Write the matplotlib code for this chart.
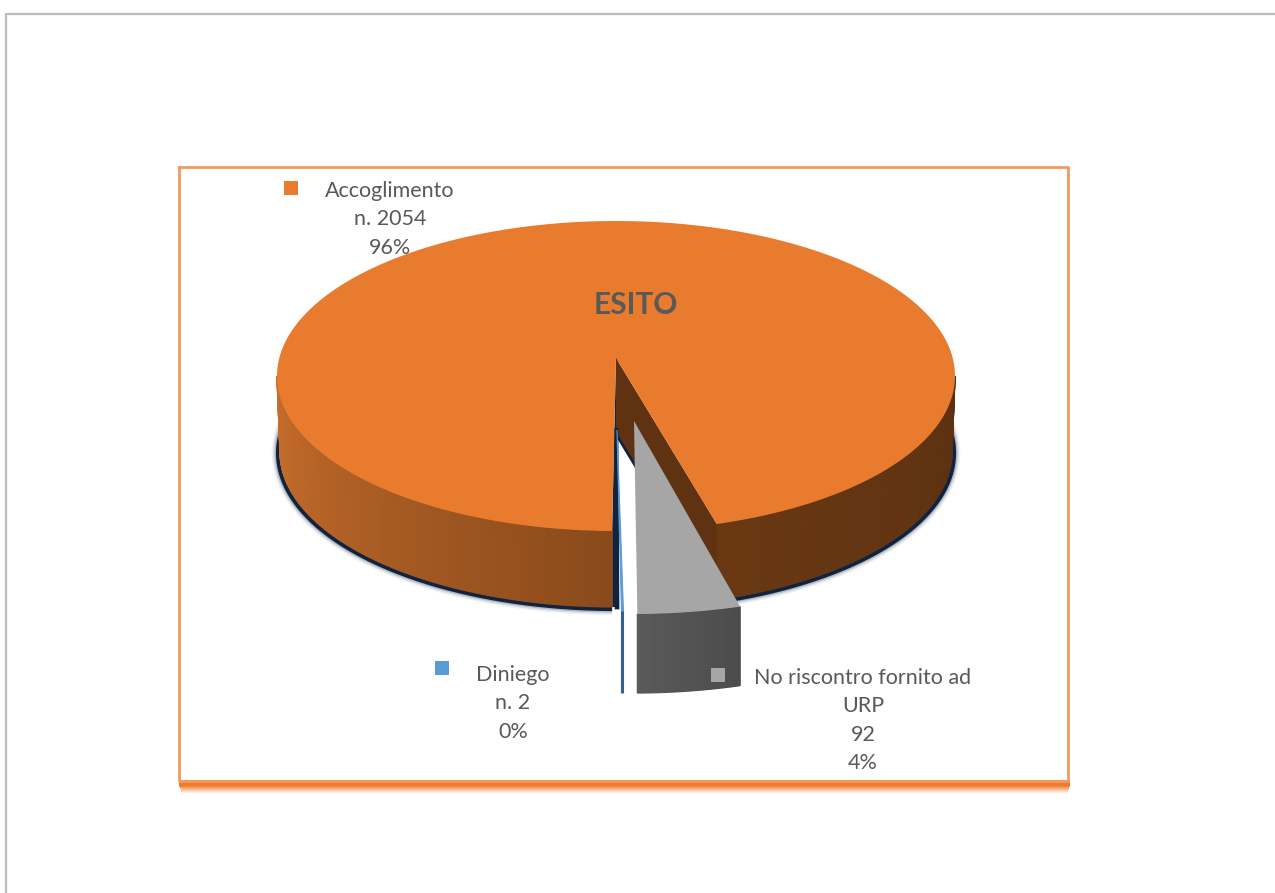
import numpy as np
from matplotlib import pyplot as plt
from matplotlib.colors import to_rgb

# Pie data
categories = ['Accoglimento', 'Diniego', 'No riscontro fornito ad\nURP']
counts = [2054, 2, 92]
percents = [96, 0, 4]
count_prefix = ['n. ', 'n. ', '']

# Colours
orange = '#E97B2F'
orange_dark = '#5F3312'
blue = '#5B9BD5'
blue_dark = '#33608F'
grey = '#A6A6A6'
navy = '#10243F'
text_col = '#595959'

plt.rcParams['font.family'] = ['Lato', 'DejaVu Sans']

fig = plt.figure(figsize=(12.75, 8.93), dpi=100)
ax = fig.add_axes([0, 0, 1, 1])
ax.set_xlim(0, 1275)
ax.set_ylim(893, 0)
ax.axis('off')


def mix(c1, c2, t):
    return tuple(np.array(to_rgb(c1)) * (1 - t) + np.array(to_rgb(c2)) * t)


# Page border, top and left only
ax.plot([6, 6, 1275], [893, 14, 14], color='#BDBDBD', lw=1.6, zorder=1)

# Chart box with a soft orange band under it
for i in range(14):
    t = max(i - 5, 0) / 8
    ax.fill_between([179 + t * 3, 1070 - t * 3], 780 + i, 781 + i, color=mix('#EE7B2C', 'white', t),
                    lw=0, zorder=1)
ax.plot([179, 1068, 1068, 179, 179], [167, 167, 781, 781, 167],
        color='#F29A5E', lw=2, zorder=2)


def arc(theta, cx, cy, a, b):
    # theta in degrees, 0 at the front of the pie, growing counterclockwise on screen
    t = np.radians(theta)
    return cx + a * np.sin(t), cy + b * np.cos(t)


def wall(th, cx, cy, a, b, depth, shrink, c1, c2, z):
    # Outer wall built from thin quads so the colour can shift along the arc
    for i in range(len(th) - 1):
        x, y = arc(th[i:i + 2], cx, cy, a, b)
        x2, y2 = arc(th[i:i + 2], cx, cy + depth, a - shrink, b)
        col = mix(c1, c2, i / max(len(th) - 2, 1))
        ax.fill([x[0], x[1], x2[1], x2[0]], [y[0], y[1], y2[1], y2[0]],
                fc=col, ec=col, lw=0.9, zorder=z)


sweeps = 360 * np.array(counts) / sum(counts)

# Big slice geometry, persp squeezes the sweep a little for the 3D view
cx, cy, a, b, depth = 616, 376, 339, 155, 76
apex_x, apex_y = 616, 358
persp = 0.9936
start = 17.3
end = start + sweeps[0] * persp
th_top = np.linspace(start, end, 500)

# Dark edge under the big slice, blurred by stacking strokes
for lw, al in [(9, 0.06), (7, 0.1), (5, 0.2), (3, 1.0)]:
    for rng in [(np.linspace(258, end, 200)), (np.linspace(start + 1, 102, 100))]:
        x, y = arc(rng, cx, cy + depth + 1, a - 1, b + 1)
        ax.plot(x, y, color=navy, lw=lw, alpha=al, zorder=3, solid_capstyle='butt')

# Far side of the left cut shows as a dark strip
ex, ey = arc(end, cx, cy, a, b)
ax.fill([apex_x, ex, ex, apex_x + 2, apex_x + 2], [apex_y, ey, ey + depth, ey + depth, apex_y],
        color=navy, lw=0, zorder=3.5)

# Outer walls of the big slice
wall(np.linspace(270, end, 90), cx, cy, a, b, depth, 3, '#C96F2C', '#8A4A1B', 4)
wall(np.linspace(start, 90, 60), cx, cy, a, b, depth, 3, '#693813', '#5C3111', 4)

# Inner cut wall
sx, sy = arc(start, cx, cy, a, b)
ax.fill([apex_x, sx, sx, apex_x], [apex_y, sy, sy + depth, apex_y + depth],
        color=orange_dark, lw=0, zorder=4)
ax.plot([apex_x, sx], [apex_y + depth, sy + depth], color=navy, lw=2, zorder=4)
ax.plot([apex_x, apex_x + 1], [apex_y + 72, cy + b + depth], color=navy, lw=3.4, zorder=4)

# Top face of the big slice
x, y = arc(th_top, cx, cy, a, b)
ax.fill(np.r_[apex_x, x], np.r_[apex_y, y], color=orange, lw=0, zorder=5)

# Small blue slice, only a sliver
bx, by, ba, bb, bd = 617, 430, 339, 182, 81
th = np.array([0.76, 0.76 + sweeps[1]])
x, y = arc(th, bx, by, ba, bb)
ax.fill(np.r_[bx, x], np.r_[by, y], color=blue, ec=blue, lw=0.8, zorder=6)
ax.fill([x[0], x[1], x[1], x[0]], [y[0], y[1], y[1] + bd, y[0] + bd],
        color=blue_dark, ec=blue_dark, lw=0.8, zorder=6)

# Grey slice pulled out towards the viewer
gx, gy, ga, gb, gd = 634, 421, 387, 193, 79
th = np.linspace(0.5, 0.5 + sweeps[2], 40)
wall(th, gx, gy, ga, gb, gd, 0, '#5A5A5A', '#4C4C4C', 6)
x, y = arc(th, gx, gy, ga, gb)
ax.fill(np.r_[gx, x], np.r_[gy, y], color=grey, lw=0, zorder=7)

# Title
ax.text(636, 305, 'ESITO', fontsize=21.5, fontweight='bold', color=text_col,
        ha='center', va='center', zorder=9)

# Labels with their colour squares
label_xy = [(390, 191), (513, 675), (863, 678)]
square_xy = [(291, 188), (442, 668), (718, 675)]
square_col = [orange, blue, grey]
for i in range(3):
    lines = categories[i].split('\n') + [count_prefix[i] + str(counts[i]), str(percents[i]) + '%']
    for j, line in enumerate(lines):
        ax.text(label_xy[i][0], label_xy[i][1] + 28.3 * j, line, fontsize=15.5, color=text_col,
                ha='center', va='center', zorder=9)
    ax.scatter(*square_xy[i], marker='s', s=95, color=square_col[i], lw=0, zorder=9)

fig.savefig('out.png', dpi=100)
